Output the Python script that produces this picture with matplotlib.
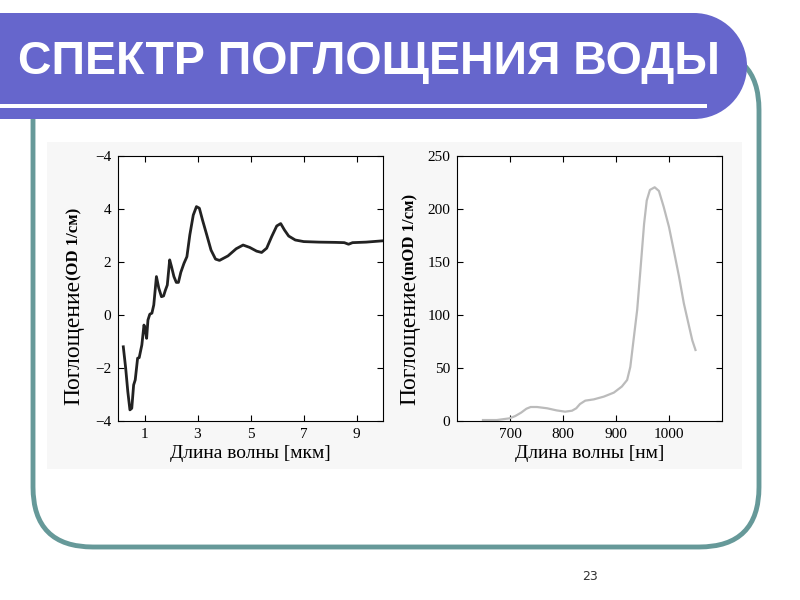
import matplotlib
matplotlib.use('Agg')
import matplotlib.pyplot as plt
from matplotlib.patches import FancyBboxPatch, Rectangle, Circle

# left chart: absorption, OD 1/cm vs wavelength in um
um = [0.20, 0.29, 0.37, 0.45, 0.52, 0.59, 0.65, 0.74, 0.80, 0.90, 0.98, 1.02, 1.08,
      1.13, 1.20, 1.28, 1.35, 1.45, 1.54, 1.64, 1.72, 1.79, 1.86, 1.95, 2.02, 2.11,
      2.20, 2.28, 2.37, 2.49, 2.60, 2.71, 2.84, 2.96, 3.07, 3.19, 3.35, 3.51, 3.68,
      3.83, 4.15, 4.46, 4.72, 4.97, 5.23, 5.42, 5.61, 5.80, 5.99, 6.14, 6.28, 6.44,
      6.69, 7.01, 7.58, 8.22, 8.54, 8.70, 8.85, 9.36, 10.0]
od = [-1.20, -2.01, -2.89, -3.58, -3.52, -2.64, -2.45, -1.63, -1.61, -1.13, -0.38,
      -0.50, -0.88, -0.19, 0.03, 0.07, 0.38, 1.45, 1.01, 0.69, 0.72, 0.94, 1.13, 2.08,
      1.82, 1.45, 1.23, 1.23, 1.61, 1.95, 2.20, 3.02, 3.77, 4.09, 4.03, 3.58, 3.02,
      2.45, 2.11, 2.06, 2.23, 2.50, 2.64, 2.55, 2.41, 2.36, 2.52, 2.96, 3.36, 3.45,
      3.21, 2.98, 2.83, 2.77, 2.75, 2.74, 2.73, 2.67, 2.73, 2.75, 2.80]
left_yticks = [-4, -2, 0, 2, 4, 6]
left_ylabels = ['\u22124', '\u22122', '0', '2', '4', '\u22124']
left_xticks = [1, 3, 5, 7, 9]

# right chart: absorption, mOD 1/cm vs wavelength in nm
nm = [649, 675, 699, 710, 721, 731, 739, 751, 770, 788, 804, 817, 825, 832, 842,
      858, 877, 896, 911, 921, 927, 933, 940, 946, 953, 958, 964, 973, 981, 990,
      1000, 1009, 1019, 1028, 1038, 1044, 1050]
mod = [0.9, 0.9, 2.5, 4.7, 7.9, 11.6, 13.2, 13.2, 12.0, 10.0, 8.8, 9.7, 12.0, 16.0,
       19.2, 20.4, 23.0, 26.8, 32.5, 38.7, 51, 76, 105, 142, 186, 208, 218, 220.5,
       217, 202, 183, 161, 136, 111, 89, 76, 67]
right_yticks = [0, 50, 100, 150, 200, 250]
right_xticks = [700, 800, 900, 1000]

blue = '#6666cc'
teal = '#669999'
serif = ['Liberation Serif', 'DejaVu Serif']

fig = plt.figure(figsize=(8, 6), dpi=100)
bg = fig.add_axes([0, 0, 1, 1])
bg.set_xlim(0, 800)
bg.set_ylim(600, 0)
bg.axis('off')

# slide decoration
bg.add_patch(FancyBboxPatch((33, 50), 726, 497, boxstyle='round,pad=0,rounding_size=60',
                            fc='white', ec=teal, lw=3.5))
bg.add_patch(Rectangle((47, 142), 695, 327, fc='#f7f7f7', ec='none'))
bg.add_patch(Rectangle((-5, 13), 699, 106, fc=blue, ec='none'))
bg.add_patch(Circle((694, 66), 53, fc=blue, ec='none'))
bg.add_patch(Rectangle((0, 104), 707, 4, fc='white', ec='none'))
bg.text(369, 62, 'СПЕКТР ПОГЛОЩЕНИЯ ВОДЫ', color='white', fontsize=33.5, weight='bold',
        family='Liberation Sans', ha='center', va='center')
bg.text(590, 576, '23', fontsize=9, color='#333333', ha='center', va='center',
        family='DejaVu Sans')


def style(ax):
    ax.set_facecolor('white')
    ax.tick_params(direction='in', length=4, top=True, right=True, labelsize=11, pad=5)
    for lab in ax.get_xticklabels() + ax.get_yticklabels():
        lab.set_family(serif)
    for s in ax.spines.values():
        s.set_linewidth(0.8)


ax1 = fig.add_axes([118 / 800, 1 - 421 / 600, 265 / 800, 265 / 600])
ax1.plot(um, od, color='#222222', lw=2.0)
ax1.set_xlim(0, 10)
ax1.set_ylim(-4, 6)
ax1.set_xticks(left_xticks)
ax1.set_yticks(left_yticks)
ax1.set_yticklabels(left_ylabels)
style(ax1)
ax1.set_xlabel('Длина волны [мкм]', family=serif, fontsize=14, labelpad=3)

ax2 = fig.add_axes([457 / 800, 1 - 421 / 600, 265 / 800, 265 / 600])
ax2.plot(nm, mod, color='#bbbbbb', lw=1.6)
ax2.set_xlim(600, 1100)
ax2.set_ylim(0, 250)
ax2.set_xticks(right_xticks)
ax2.set_yticks(right_yticks)
style(ax2)
ax2.set_xlabel('Длина волны [нм]', family=serif, fontsize=14, labelpad=3)

# y labels: big plain word plus smaller bold unit
for x, unit in ((74, '(OD 1/см)'), (410, '(mOD 1/см)')):
    t1 = bg.text(x, 405, 'Поглощение', rotation=90, ha='center', va='bottom',
                 family=serif, fontsize=17)
    bg.annotate(unit, xy=(0.5, 1), xycoords=t1, rotation=90, ha='center', va='bottom',
                family=serif, fontsize=12, weight='bold')

fig.savefig('out.png', dpi=100)
